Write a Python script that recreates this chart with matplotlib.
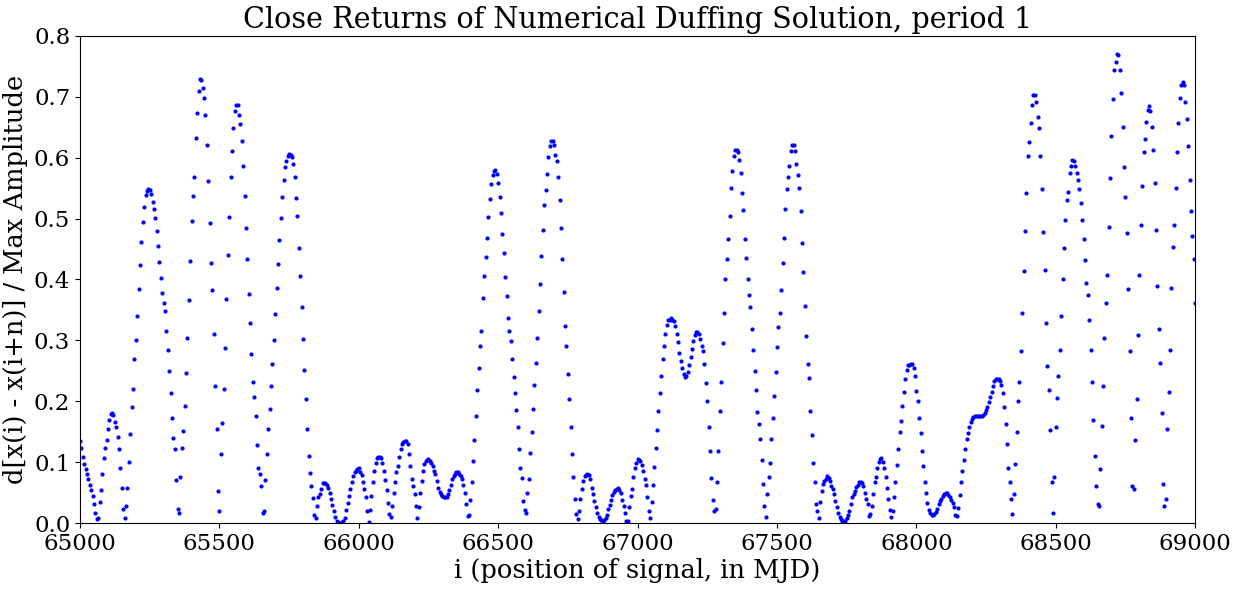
import numpy as np
import matplotlib
matplotlib.use("Agg")
import matplotlib.pyplot as plt

# close-return distance, every 5 samples
x_start, x_stop, x_step = 65000, 69000, 5

y_65k = [0.135, 0.123, 0.109, 0.097, 0.088, 0.081, 0.072, 0.063, 0.055, 0.045,
         0.031, 0.016, 0.007, 0.009, 0.034, 0.054, 0.080, 0.106, 0.124, 0.136,
         0.154, 0.170, 0.179, 0.181, 0.177, 0.166, 0.158, 0.141, 0.121, 0.090,
         0.058, 0.023, 0.008, 0.028, 0.058, 0.101, 0.146, 0.190, 0.220, 0.269,
         0.300, 0.340, 0.385, 0.424, 0.462, 0.495, 0.519, 0.538, 0.546, 0.548,
         0.547, 0.540, 0.527, 0.516, 0.501, 0.479, 0.455, 0.428, 0.403, 0.377,
         0.361, 0.348, 0.315, 0.284, 0.250, 0.214, 0.173, 0.140, 0.121, 0.071,
         0.023, 0.017, 0.075, 0.123, 0.151, 0.192, 0.247, 0.304, 0.367, 0.431,
         0.496, 0.537, 0.569, 0.632, 0.673, 0.710, 0.729, 0.728, 0.714, 0.698,
         0.670, 0.621, 0.561, 0.492, 0.427, 0.382, 0.311, 0.225, 0.154, 0.053,
         0.020, 0.114, 0.165, 0.220, 0.288, 0.368, 0.441, 0.503, 0.569, 0.611,
         0.649, 0.677, 0.687, 0.686, 0.670, 0.655, 0.627, 0.586, 0.537, 0.484,
         0.433, 0.376, 0.329, 0.278, 0.231, 0.207, 0.176, 0.128, 0.091, 0.080,
         0.061, 0.016, 0.020, 0.070, 0.113, 0.154, 0.187, 0.225, 0.262, 0.300,
         0.344, 0.386, 0.425, 0.465, 0.501, 0.536, 0.564, 0.584, 0.594, 0.602,
         0.606, 0.605, 0.601, 0.589, 0.569, 0.533, 0.504, 0.451, 0.405, 0.354,
         0.302, 0.252, 0.203, 0.154, 0.110, 0.082, 0.061, 0.041, 0.014, 0.008,
         0.028, 0.043, 0.048, 0.056, 0.065, 0.066, 0.065, 0.062, 0.058, 0.049,
         0.039, 0.030, 0.020, 0.010, 0.004, 0.001, 0.000, 0.000, 0.001, 0.003,
         0.009, 0.022, 0.033, 0.045, 0.056, 0.068, 0.077, 0.084, 0.086, 0.088]

y_66k = [0.090, 0.083, 0.079, 0.068, 0.056, 0.042, 0.020, 0.002, 0.021, 0.044,
         0.068, 0.086, 0.098, 0.106, 0.109, 0.109, 0.107, 0.099, 0.086, 0.071,
         0.054, 0.033, 0.015, 0.010, 0.028, 0.050, 0.067, 0.084, 0.094, 0.109,
         0.121, 0.129, 0.133, 0.134, 0.134, 0.129, 0.113, 0.094, 0.072, 0.060,
         0.048, 0.028, 0.009, 0.026, 0.049, 0.069, 0.086, 0.097, 0.102, 0.104,
         0.105, 0.102, 0.099, 0.094, 0.086, 0.080, 0.069, 0.057, 0.051, 0.047,
         0.045, 0.043, 0.042, 0.043, 0.048, 0.054, 0.062, 0.073, 0.077, 0.081,
         0.083, 0.083, 0.080, 0.077, 0.073, 0.063, 0.050, 0.032, 0.012, 0.013,
         0.038, 0.068, 0.102, 0.137, 0.176, 0.218, 0.255, 0.291, 0.315, 0.370,
         0.405, 0.437, 0.468, 0.503, 0.532, 0.557, 0.571, 0.578, 0.580, 0.573,
         0.558, 0.536, 0.509, 0.475, 0.444, 0.404, 0.373, 0.337, 0.315, 0.299,
         0.269, 0.240, 0.213, 0.186, 0.157, 0.122, 0.090, 0.074, 0.037, 0.021,
         0.017, 0.050, 0.072, 0.115, 0.149, 0.187, 0.226, 0.263, 0.304, 0.349,
         0.392, 0.438, 0.482, 0.523, 0.547, 0.573, 0.601, 0.620, 0.628, 0.627,
         0.621, 0.605, 0.594, 0.568, 0.531, 0.485, 0.433, 0.379, 0.323, 0.290,
         0.245, 0.203, 0.157, 0.113, 0.075, 0.040, 0.015, 0.007, 0.019, 0.039,
         0.056, 0.069, 0.077, 0.079, 0.080, 0.079, 0.072, 0.058, 0.048, 0.037,
         0.027, 0.016, 0.010, 0.007, 0.005, 0.004, 0.005, 0.008, 0.014, 0.023,
         0.030, 0.038, 0.046, 0.051, 0.055, 0.056, 0.057, 0.055, 0.049, 0.038,
         0.028, 0.016, 0.004, 0.003, 0.026, 0.045, 0.056, 0.076, 0.090, 0.099]

y_67k = [0.105, 0.104, 0.102, 0.096, 0.085, 0.072, 0.063, 0.043, 0.020, 0.008,
         0.034, 0.063, 0.092, 0.123, 0.152, 0.184, 0.214, 0.241, 0.269, 0.291,
         0.310, 0.326, 0.333, 0.334, 0.336, 0.334, 0.331, 0.323, 0.311, 0.298,
         0.280, 0.266, 0.255, 0.245, 0.240, 0.242, 0.248, 0.259, 0.272, 0.286,
         0.299, 0.308, 0.313, 0.313, 0.310, 0.302, 0.291, 0.283, 0.261, 0.230,
         0.201, 0.158, 0.119, 0.074, 0.038, 0.020, 0.023, 0.067, 0.119, 0.184,
         0.231, 0.295, 0.345, 0.400, 0.433, 0.466, 0.504, 0.551, 0.578, 0.602,
         0.613, 0.612, 0.610, 0.597, 0.575, 0.542, 0.514, 0.467, 0.435, 0.400,
         0.375, 0.355, 0.318, 0.285, 0.250, 0.219, 0.183, 0.163, 0.138, 0.104,
         0.064, 0.028, 0.010, 0.048, 0.075, 0.098, 0.138, 0.172, 0.209, 0.248,
         0.289, 0.322, 0.345, 0.382, 0.427, 0.468, 0.515, 0.548, 0.569, 0.587,
         0.611, 0.621, 0.621, 0.611, 0.589, 0.572, 0.550, 0.512, 0.460, 0.413,
         0.356, 0.307, 0.261, 0.238, 0.184, 0.144, 0.099, 0.068, 0.032, 0.019,
         0.009, 0.034, 0.053, 0.064, 0.069, 0.073, 0.077, 0.074, 0.069, 0.061,
         0.056, 0.048, 0.037, 0.027, 0.016, 0.010, 0.006, 0.003, 0.003, 0.004,
         0.008, 0.013, 0.019, 0.031, 0.042, 0.048, 0.053, 0.059, 0.063, 0.067,
         0.067, 0.065, 0.061, 0.050, 0.039, 0.031, 0.012, 0.015, 0.028, 0.048,
         0.067, 0.075, 0.091, 0.100, 0.105, 0.106, 0.101, 0.090, 0.076, 0.058,
         0.039, 0.022, 0.010, 0.020, 0.042, 0.067, 0.095, 0.122, 0.150, 0.168,
         0.192, 0.215, 0.236, 0.252, 0.260, 0.260, 0.261, 0.261, 0.255, 0.242]

y_68k = [0.217, 0.201, 0.173, 0.148, 0.119, 0.094, 0.068, 0.050, 0.033, 0.022,
         0.016, 0.014, 0.014, 0.015, 0.018, 0.023, 0.032, 0.036, 0.040, 0.045,
         0.048, 0.049, 0.049, 0.046, 0.042, 0.038, 0.033, 0.026, 0.014, 0.011,
         0.025, 0.046, 0.067, 0.085, 0.104, 0.122, 0.138, 0.148, 0.158, 0.166,
         0.171, 0.174, 0.175, 0.175, 0.175, 0.175, 0.175, 0.175, 0.177, 0.181,
         0.185, 0.191, 0.198, 0.207, 0.216, 0.225, 0.234, 0.237, 0.237, 0.236,
         0.233, 0.227, 0.213, 0.191, 0.162, 0.129, 0.091, 0.067, 0.039, 0.015,
         0.047, 0.097, 0.149, 0.200, 0.231, 0.282, 0.345, 0.414, 0.480, 0.542,
         0.602, 0.625, 0.657, 0.687, 0.703, 0.703, 0.691, 0.667, 0.649, 0.602,
         0.548, 0.478, 0.416, 0.328, 0.258, 0.218, 0.152, 0.068, 0.017, 0.075,
         0.158, 0.206, 0.242, 0.285, 0.340, 0.400, 0.452, 0.498, 0.531, 0.544,
         0.575, 0.587, 0.596, 0.594, 0.586, 0.575, 0.564, 0.548, 0.526, 0.498,
         0.467, 0.432, 0.395, 0.374, 0.334, 0.285, 0.232, 0.169, 0.110, 0.061,
         0.032, 0.028, 0.088, 0.160, 0.225, 0.304, 0.362, 0.408, 0.487, 0.566,
         0.635, 0.697, 0.744, 0.757, 0.770, 0.768, 0.744, 0.706, 0.650, 0.584,
         0.535, 0.477, 0.384, 0.283, 0.172, 0.061, 0.056, 0.137, 0.203, 0.309,
         0.408, 0.490, 0.553, 0.610, 0.630, 0.659, 0.679, 0.685, 0.676, 0.650,
         0.613, 0.558, 0.482, 0.389, 0.318, 0.263, 0.181, 0.064, 0.028, 0.039,
         0.154, 0.216, 0.285, 0.386, 0.454, 0.490, 0.550, 0.610, 0.657, 0.698,
         0.720, 0.725, 0.720, 0.691, 0.663, 0.619, 0.563, 0.512, 0.471, 0.433,
         0.362]

x_ticks = [65000, 65500, 66000, 66500, 67000, 67500, 68000, 68500, 69000]
y_ticks = [0.0, 0.1, 0.2, 0.3, 0.4, 0.5, 0.6, 0.7, 0.8]

i_pos = np.arange(x_start, x_stop + 1, x_step)
dist = np.array(y_65k + y_66k + y_67k + y_68k)

plt.rcParams['font.family'] = 'DejaVu Serif'

fig = plt.figure(figsize=(12.41, 5.89), dpi=100)
ax = fig.add_axes([0.0645, 0.112, 0.8985, 0.827])
ax.plot(i_pos, dist, linestyle='none', marker='o', markersize=3.0,
        color='blue', markeredgewidth=0)

ax.set_xlim(65000, 69000)
ax.set_ylim(0, 0.8)
ax.set_xticks(x_ticks)
ax.set_yticks(y_ticks)
ax.tick_params(labelsize=16.5)
ax.set_xlabel('i (position of signal, in MJD)', fontsize=18.5, labelpad=2)
ax.set_ylabel('d[x(i) - x(i+n)] / Max Amplitude', fontsize=18.5, labelpad=4)
ax.set_title('Close Returns of Numerical Duffing Solution, period 1', fontsize=20.6)

fig.savefig('out.png', dpi=100)
